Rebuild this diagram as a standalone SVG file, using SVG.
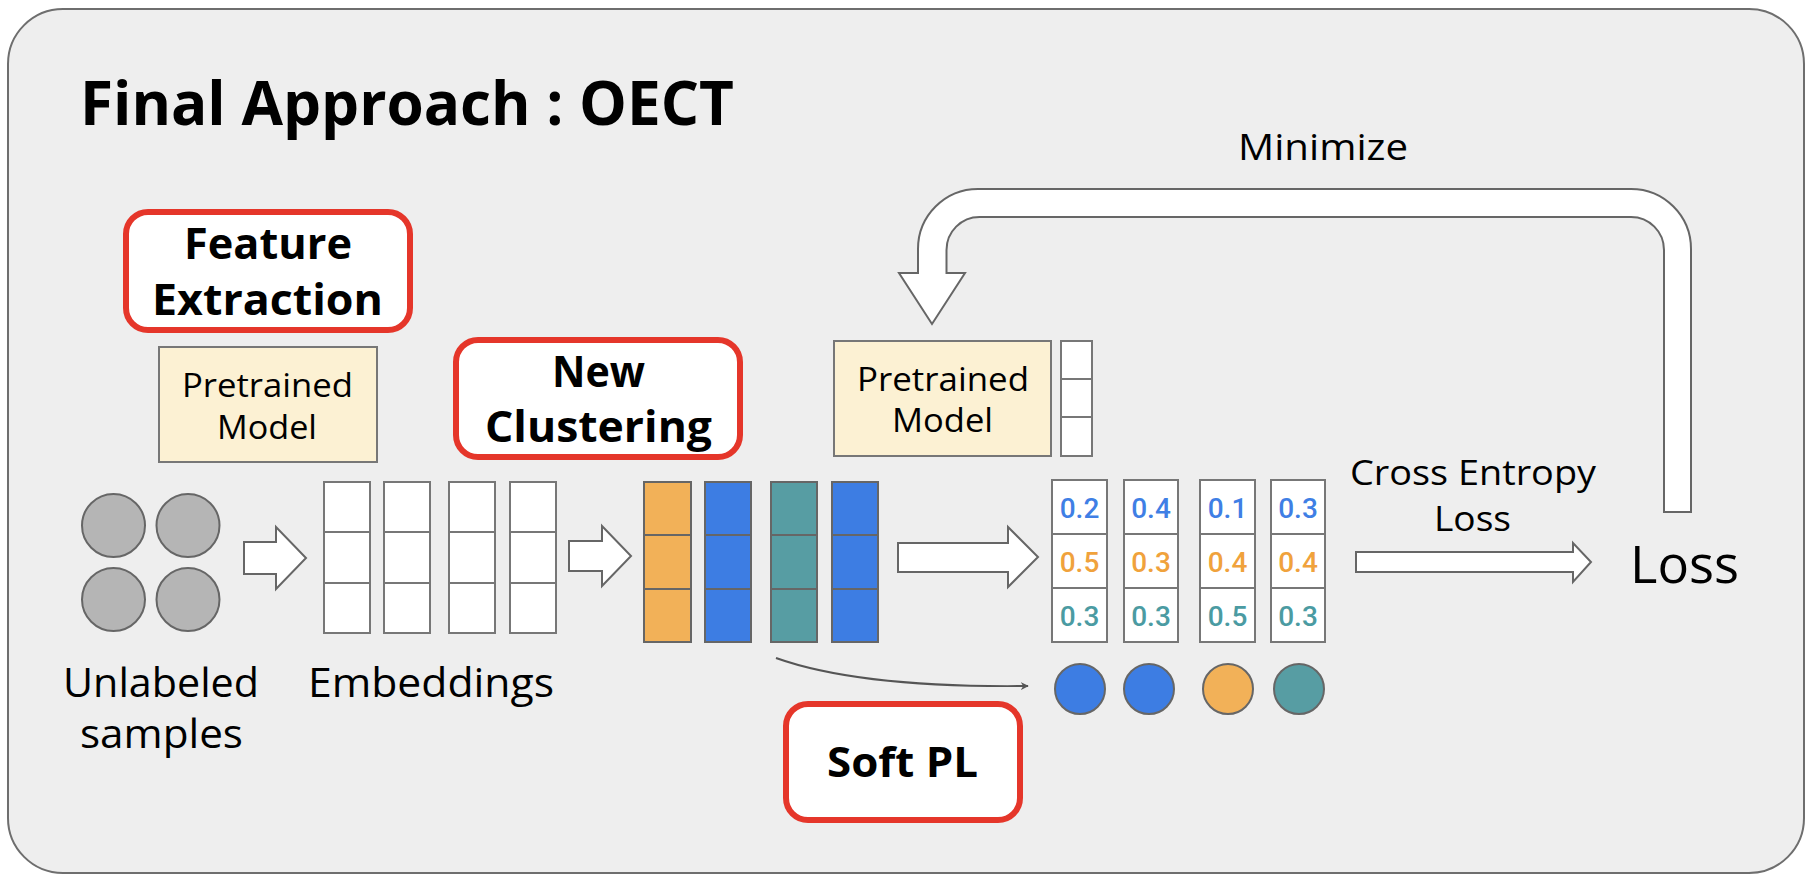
<svg xmlns="http://www.w3.org/2000/svg" width="1812" height="882" viewBox="0 0 1812 882">
<defs>
<style>
.t{font-family:"Open Sans","Liberation Sans",sans-serif;fill:#000;}
.b{font-weight:700;}
.red{fill:#fff;stroke:#e5362a;stroke-width:6;}
.pm{fill:#fcf1d3;stroke:#777;stroke-width:2;}
.cell{fill:#fff;stroke:#777;stroke-width:2;}
.blk{fill:#fff;stroke:#666;stroke-width:2;stroke-linejoin:miter;}
.n{font-family:Roboto,"Liberation Sans",sans-serif;font-weight:500;font-size:28px;text-anchor:middle;}
.nb{fill:#3f7fe5;}
.no{fill:#f0a23c;}
.nt{fill:#4b9ba2;}
</style>
<marker id="ah" viewBox="0 0 10 10" refX="9" refY="5" markerWidth="8" markerHeight="8" orient="auto" markerUnits="userSpaceOnUse">
<path d="M0,0 L10,5 L0,10 L3,5 Z" fill="#555"/>
</marker>
</defs>

<rect x="8" y="9" width="1796" height="864" rx="55" ry="55" fill="#eeeeee" stroke="#6e6e6e" stroke-width="2"/>

<text class="t b" x="80" y="125" font-size="60" textLength="654" lengthAdjust="spacingAndGlyphs">Final Approach : OECT</text>

<g id="connectors">
<path class="blk" d="M244,542 H276 V527 L306,558 L276,589 V574 H244 Z"/>
<path class="blk" d="M569,541 H602 V526 L631,556 L602,586 V571 H569 Z"/>
<path class="blk" d="M898,543 H1008 V527 L1038,557 L1008,587 V572 H898 Z"/>
<path class="blk" d="M1356,552 H1573 V543 L1591,562 L1573,582 V572 H1356 Z"/>
<path d="M776,658 Q860,688 1028,686" fill="none" stroke="#555" stroke-width="2" marker-end="url(#ah)"/>
<path class="blk" d="M1691,512 V249 A60,60 0 0 0 1631,189 H978 A60,60 0 0 0 918,249 V273 H899 L932,324 L965,273 H946.5 V250 A33,33 0 0 1 979.5,217 H1631 A33,33 0 0 1 1664,250 V512 Z"/>
<text class="t" x="1238" y="160" font-size="37" textLength="170" lengthAdjust="spacingAndGlyphs">Minimize</text>
<text class="t" x="1350" y="485" font-size="34" textLength="246" lengthAdjust="spacingAndGlyphs">Cross Entropy</text>
<text class="t" x="1434" y="531" font-size="34" textLength="77" lengthAdjust="spacingAndGlyphs">Loss</text>
</g>

<g id="feature-extraction">
<rect class="red" x="126" y="212" width="284" height="118" rx="22"/>
<text class="t b" x="184" y="259" font-size="43" textLength="168" lengthAdjust="spacingAndGlyphs">Feature</text>
<text class="t b" x="152" y="315" font-size="43" textLength="231" lengthAdjust="spacingAndGlyphs">Extraction</text>
</g>

<g id="pretrained-model-1">
<rect class="pm" x="159" y="347" width="218" height="115"/>
<text class="t" x="182" y="397" font-size="33" textLength="171" lengthAdjust="spacingAndGlyphs">Pretrained</text>
<text class="t" x="217" y="439" font-size="33" textLength="100" lengthAdjust="spacingAndGlyphs">Model</text>
</g>

<g id="new-clustering">
<rect class="red" x="456" y="340" width="284" height="117" rx="22"/>
<text class="t b" x="552" y="387" font-size="43" textLength="93" lengthAdjust="spacingAndGlyphs">New</text>
<text class="t b" x="485" y="442" font-size="43" textLength="227" lengthAdjust="spacingAndGlyphs">Clustering</text>
</g>

<g id="unlabeled-samples">
<circle cx="113.5" cy="525.5" r="31.5" fill="#b5b5b5" stroke="#666" stroke-width="2"/>
<circle cx="188" cy="525.5" r="31.5" fill="#b5b5b5" stroke="#666" stroke-width="2"/>
<circle cx="113.5" cy="599.5" r="31.5" fill="#b5b5b5" stroke="#666" stroke-width="2"/>
<circle cx="188" cy="599.5" r="31.5" fill="#b5b5b5" stroke="#666" stroke-width="2"/>
<text class="t" x="63" y="697" font-size="40" textLength="196" lengthAdjust="spacingAndGlyphs">Unlabeled</text>
<text class="t" x="80" y="748" font-size="40" textLength="163" lengthAdjust="spacingAndGlyphs">samples</text>
</g>

<g id="embeddings">
<rect class="cell" x="324" y="482" width="46" height="50"/><rect class="cell" x="324" y="532" width="46" height="51"/><rect class="cell" x="324" y="583" width="46" height="50"/>
<rect class="cell" x="384" y="482" width="46" height="50"/><rect class="cell" x="384" y="532" width="46" height="51"/><rect class="cell" x="384" y="583" width="46" height="50"/>
<rect class="cell" x="449" y="482" width="46" height="50"/><rect class="cell" x="449" y="532" width="46" height="51"/><rect class="cell" x="449" y="583" width="46" height="50"/>
<rect class="cell" x="510" y="482" width="46" height="50"/><rect class="cell" x="510" y="532" width="46" height="51"/><rect class="cell" x="510" y="583" width="46" height="50"/>
<text class="t" x="308" y="697" font-size="40" textLength="246" lengthAdjust="spacingAndGlyphs">Embeddings</text>
</g>

<g id="clustered-embeddings" stroke="#666" stroke-width="2">
<rect x="644" y="482" width="47" height="53" fill="#f2b158"/><rect x="644" y="535" width="47" height="54" fill="#f2b158"/><rect x="644" y="589" width="47" height="53" fill="#f2b158"/>
<rect x="705" y="482" width="46" height="53" fill="#3d7de3"/><rect x="705" y="535" width="46" height="54" fill="#3d7de3"/><rect x="705" y="589" width="46" height="53" fill="#3d7de3"/>
<rect x="771" y="482" width="46" height="53" fill="#579da3"/><rect x="771" y="535" width="46" height="54" fill="#579da3"/><rect x="771" y="589" width="46" height="53" fill="#579da3"/>
<rect x="832" y="482" width="46" height="53" fill="#3d7de3"/><rect x="832" y="535" width="46" height="54" fill="#3d7de3"/><rect x="832" y="589" width="46" height="53" fill="#3d7de3"/>
</g>

<g id="soft-pl">
<rect class="red" x="786" y="704" width="234" height="116" rx="22"/>
<text class="t b" x="827" y="777" font-size="42" textLength="151" lengthAdjust="spacingAndGlyphs">Soft PL</text>
</g>

<g id="pretrained-model-2">
<rect class="pm" x="834" y="341" width="217" height="115"/>
<text class="t" x="857" y="391" font-size="33" textLength="172" lengthAdjust="spacingAndGlyphs">Pretrained</text>
<text class="t" x="892" y="432" font-size="33" textLength="101" lengthAdjust="spacingAndGlyphs">Model</text>
<rect class="cell" x="1061" y="341" width="31" height="38"/><rect class="cell" x="1061" y="379" width="31" height="38"/><rect class="cell" x="1061" y="417" width="31" height="39"/>
</g>

<g id="probabilities">
<rect class="cell" x="1052" y="480" width="55" height="54"/><rect class="cell" x="1052" y="534" width="55" height="54"/><rect class="cell" x="1052" y="588" width="55" height="54"/>
<rect class="cell" x="1124" y="480" width="54" height="54"/><rect class="cell" x="1124" y="534" width="54" height="54"/><rect class="cell" x="1124" y="588" width="54" height="54"/>
<rect class="cell" x="1200" y="480" width="55" height="54"/><rect class="cell" x="1200" y="534" width="55" height="54"/><rect class="cell" x="1200" y="588" width="55" height="54"/>
<rect class="cell" x="1271" y="480" width="54" height="54"/><rect class="cell" x="1271" y="534" width="54" height="54"/><rect class="cell" x="1271" y="588" width="54" height="54"/>
<text class="n nb" x="1079.5" y="518">0.2</text><text class="n nb" x="1151" y="518">0.4</text><text class="n nb" x="1227.5" y="518">0.1</text><text class="n nb" x="1298" y="518">0.3</text>
<text class="n no" x="1079.5" y="572">0.5</text><text class="n no" x="1151" y="572">0.3</text><text class="n no" x="1227.5" y="572">0.4</text><text class="n no" x="1298" y="572">0.4</text>
<text class="n nt" x="1079.5" y="626">0.3</text><text class="n nt" x="1151" y="626">0.3</text><text class="n nt" x="1227.5" y="626">0.5</text><text class="n nt" x="1298" y="626">0.3</text>
</g>

<g id="pseudo-labels" stroke="#666" stroke-width="2">
<circle cx="1080" cy="689" r="25" fill="#3d7de3"/>
<circle cx="1149" cy="689" r="25" fill="#3d7de3"/>
<circle cx="1228" cy="689" r="25" fill="#f2b158"/>
<circle cx="1299" cy="689" r="25" fill="#579da3"/>
</g>

<g id="loss">
<text class="t" x="1630" y="583" font-size="51" textLength="109" lengthAdjust="spacingAndGlyphs">Loss</text>
</g>
</svg>
